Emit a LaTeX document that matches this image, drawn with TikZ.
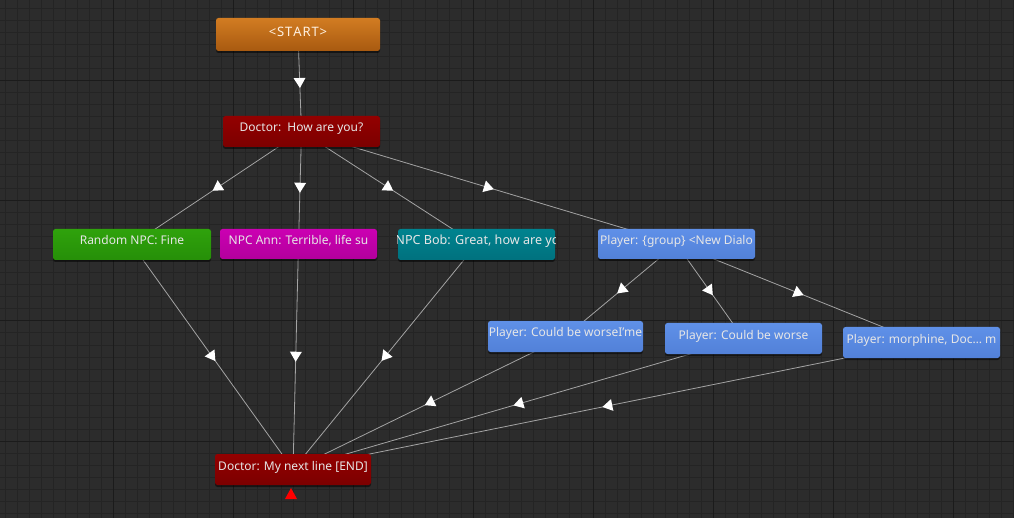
\documentclass[tikz,border=0pt]{standalone}
\usepackage{fontspec}
\setmainfont{Noto Sans}
\usetikzlibrary{arrows.meta,decorations.markings,shadows}
\pgfdeclarelayer{gridlayer}
\pgfdeclarelayer{edgelayer}
\pgfsetlayers{gridlayer,edgelayer,main}
\definecolor{bgc}{HTML}{2C2C2C}
\definecolor{minorc}{HTML}{242424}
\definecolor{majorc}{HTML}{1B1B1B}
\definecolor{edgec}{HTML}{A4A4A4}
\definecolor{txtc}{HTML}{E6E6E6}
\definecolor{orangeT}{HTML}{D27C22}
\definecolor{orangeB}{HTML}{A85A10}
\definecolor{redT}{HTML}{930000}
\definecolor{redB}{HTML}{7C0000}
\definecolor{greenT}{HTML}{2FA20C}
\definecolor{greenB}{HTML}{268F08}
\definecolor{magT}{HTML}{CB00B2}
\definecolor{magB}{HTML}{B3009D}
\definecolor{tealT}{HTML}{00838F}
\definecolor{tealB}{HTML}{00717E}
\definecolor{blueT}{HTML}{5F90E8}
\definecolor{blueB}{HTML}{5281D8}
\newcommand{\ksp}{\kern0.9pt}
\tikzset{
  labeltext/.style={inner sep=0pt, text height=10pt, text depth=9pt, text=txtc,
    font=\fontsize{12}{15}\selectfont},
  statebox/.style={labeltext, rounded corners=2.5pt, minimum width=157pt, minimum height=31pt,
    drop shadow={shadow xshift=0pt, shadow yshift=-2pt, opacity=0.5, fill=black}},
  st/.style n args={2}{statebox, top color=#1, bottom color=#2},
  link/.style={draw=edgec, line width=0.8pt, postaction={decorate},
    decoration={markings, mark=at position 0.5 with {\fill[white] (5pt,0pt) -- (-5pt,6pt) -- (-5pt,-6pt) -- cycle;}}},
}
\begin{document}
\begin{tikzpicture}[x=1pt,y=-1pt]
\useasboundingbox (0,0) rectangle (1014,518);
\begin{pgfonlayer}{gridlayer}
  \fill[bgc] (0,0) rectangle (1014,518);
  \foreach \x in {5,17,...,1013} \draw[minorc, line width=1pt] (\x,0) -- (\x,518);
  \foreach \y in {9,21,...,517} \draw[minorc, line width=1pt] (0,\y) -- (1014,\y);
  \foreach \x in {113,233,...,953} \draw[majorc, line width=1pt] (\x,0) -- (\x,518);
  \foreach \y in {81,201,...,441} \draw[majorc, line width=1pt] (0,\y) -- (1014,\y);
\end{pgfonlayer}

\node[st={orangeT}{orangeB}, minimum width=164pt, minimum height=33pt, text depth=5pt, text=white!88!orange, font=\fontsize{13}{15}\selectfont] (start) at (298,34.5) {<\ksp S\ksp T\ksp A\ksp R\ksp T\ksp >};
\node[st={redT}{redB}] (doc) at (301.5,131.5) {Doctor:\ \ How are you?};
\node[st={greenT}{greenB}, minimum width=158pt] (rnd) at (132,244.5) {Random NPC: Fine};
\node[st={magT}{magB}, minimum height=30pt] (ann) at (298.5,244) {NPC Ann: Terrible, life su};
\node[st={tealT}{tealB}] (bob) at (476.5,244.5) {};
\begin{scope}
  \clip (bob.south west) rectangle (bob.north east);
  \node[labeltext, font=\fontsize{12.6}{15}\selectfont] (bobtext) at ([xshift=1pt]bob.center) {NPC Bob: Great, how are yo};
\end{scope}
\node[st={blueT}{blueB}, minimum height=30pt] (grp) at (676.5,244) {Player: \{group\} <New Dialo};
\node[st={blueT}{blueB}, minimum width=155pt] (cbwi) at (565.5,336.5) {Player: Could be worseI'me};
\node[st={blueT}{blueB}] (cbw) at (743.5,338.5) {Player: Could be worse};
\node[st={blueT}{blueB}] (mor) at (921.5,342.5) {Player: morphine, Doc\dots\ m};
\node[st={redT}{redB}, minimum width=156pt] (fin) at (293,469.5) {Doctor: My next line [END]};
\fill[red] (285,499) -- (297,499) -- (291,488) -- cycle;

\begin{pgfonlayer}{edgelayer}
  \draw[link] (start.center) -- (doc.center);
  \draw[link] (doc.center) -- (rnd.center);
  \draw[link] (doc.center) -- (ann.center);
  \draw[link] (doc.center) -- (bob.center);
  \draw[link] (doc.center) -- (grp.center);
  \draw[link] (grp.center) -- (cbwi.center);
  \draw[link] (grp.center) -- (cbw.center);
  \draw[link] (grp.center) -- (mor.center);
  \draw[link] (rnd.center) -- (fin.center);
  \draw[link] (ann.center) -- (fin.center);
  \draw[link] (bob.center) -- (fin.center);
  \draw[link] (cbwi.center) -- (fin.center);
  \draw[link] (cbw.center) -- (fin.center);
  \draw[link] (mor.center) -- (fin.center);
\end{pgfonlayer}
\end{tikzpicture}
\end{document}
